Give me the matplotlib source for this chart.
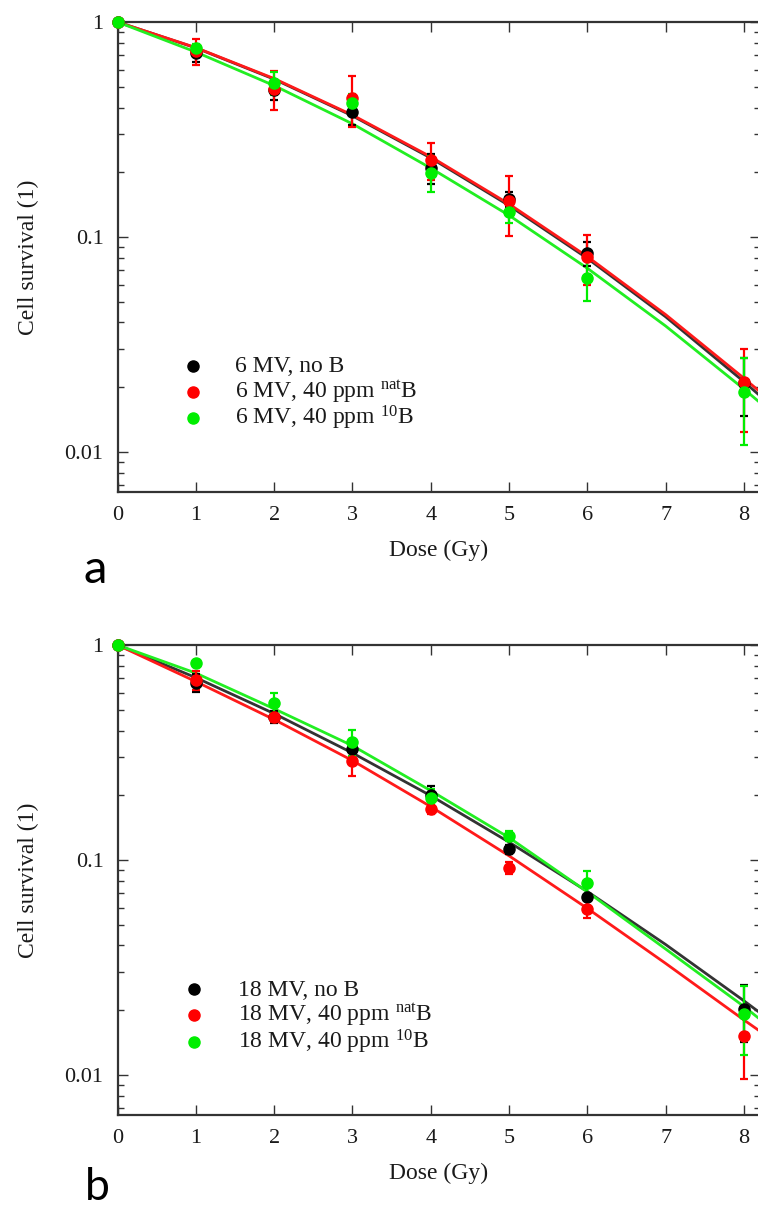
import matplotlib
matplotlib.use("Agg")
import matplotlib.pyplot as plt
from matplotlib.ticker import LogLocator, NullFormatter, FixedLocator

# ---------------- data ----------------
dose = [0, 1, 2, 3, 4, 5, 6, 8]
fit_dose = [0, 1, 2, 3, 4, 5, 6, 7, 8, 8.2]
x_ticks = [0, 1, 2, 3, 4, 5, 6, 7, 8]
y_ticks = [0.01, 0.1, 1]
y_ticklabels = ["0.01", "0.1", "1"]

# Panel a : 6 MV
a_noB = [1, 0.717, 0.483, 0.381, 0.209, 0.150, 0.084, 0.0210]
a_noB_err = [0, 0.065, 0.05, 0.05, 0.033, 0.012, 0.011, 0.0064]
a_nat = [1, 0.730, 0.490, 0.443, 0.228, 0.147, 0.081, 0.0212]
a_nat_err = [0, 0.10, 0.10, 0.12, 0.045, 0.046, 0.021, 0.0088]
a_b10 = [1, 0.757, 0.520, 0.420, 0.199, 0.131, 0.0645, 0.0190]
a_b10_err = [0, 0.03, 0.065, 0.04, 0.038, 0.015, 0.014, 0.0083]
a_fit_noB = [1, 0.758, 0.542, 0.366, 0.233, 0.140, 0.0795, 0.0425, 0.0212, 0.0183]
a_fit_nat = [1, 0.760, 0.5455, 0.369, 0.236, 0.1423, 0.0810, 0.0435, 0.0220, 0.0191]
a_fit_b10 = [1, 0.725, 0.506, 0.336, 0.209, 0.126, 0.0715, 0.0385, 0.0196, 0.0170]
a_labels = ["6 MV, no B", "6 MV, 40 ppm $^{\\mathrm{nat}}$B", "6 MV, 40 ppm $^{\\mathrm{10}}$B"]

# Panel b : 18 MV
b_noB = [1, 0.668, 0.462, 0.329, 0.201, 0.112, 0.0671, 0.0202]
b_noB_err = [0, 0.065, 0.03, 0.03, 0.02, 0.005, 0.008, 0.006]
b_nat = [1, 0.688, 0.460, 0.290, 0.172, 0.092, 0.0594, 0.0151]
b_nat_err = [0, 0.07, 0.02, 0.043, 0.008, 0.006, 0.006, 0.0055]
b_b10 = [1, 0.822, 0.540, 0.353, 0.194, 0.129, 0.0784, 0.0192]
b_b10_err = [0, 0.02, 0.058, 0.05, 0.02, 0.007, 0.010, 0.0068]
b_fit_noB = [1, 0.705, 0.4796, 0.3145, 0.199, 0.121, 0.0713, 0.0404, 0.0221, 0.0195]
b_fit_nat = [1, 0.676, 0.450, 0.290, 0.177, 0.1045, 0.0595, 0.0330, 0.0180, 0.0160]
b_fit_b10 = [1, 0.740, 0.505, 0.340, 0.210, 0.127, 0.0710, 0.0385, 0.0208, 0.0182]
b_labels = ["18 MV, no B", "18 MV, 40 ppm $^{\\mathrm{nat}}$B", "18 MV, 40 ppm $^{\\mathrm{10}}$B"]

colors = ["#000000", "#ff0000", "#00ee00"]
fit_colors = ["#333333", "#ff1a1a", "#22ee22"]

# ---------------- style ----------------
plt.rcParams["font.family"] = ["Liberation Serif", "DejaVu Serif"]
plt.rcParams["mathtext.fontset"] = "custom"
plt.rcParams["mathtext.rm"] = "Liberation Serif"
plt.rcParams["mathtext.it"] = "Liberation Serif:italic"

W, H = 758, 1206
fig = plt.figure(figsize=(W / 100, H / 100), dpi=100)

x0_px = 117.5
px_per_gy = 78.3
xmax = 8.2
ax_wpx = px_per_gy * xmax
ylo, yhi = 0.0065, 1.0
spine_col = "#333333"
txt_col = "#1a1a1a"


def make_panel(top_px, bottom_px, pts, errs, fits, labels, rows_px, marker_px, text_px):
    hpx = bottom_px - top_px
    ax = fig.add_axes([x0_px / W, 1 - bottom_px / H, ax_wpx / W, hpx / H])
    ax.set_yscale("log")
    ax.set_xlim(0, xmax)
    ax.set_ylim(ylo, yhi)
    for fy, c in zip(fits, fit_colors):
        ax.plot(fit_dose, fy, color=c, lw=2.0, zorder=2)
    for y, e, c in zip(pts, errs, colors):
        ax.errorbar(dose, y, yerr=e, fmt="o", color=c, ms=8, mec=c,
                    elinewidth=1.6, capsize=3.2, capthick=1.6, zorder=3, clip_on=False)
    ax.xaxis.set_major_locator(FixedLocator(x_ticks))
    ax.set_xticklabels([str(t) for t in x_ticks])
    ax.yaxis.set_major_locator(FixedLocator(y_ticks))
    ax.set_yticklabels(y_ticklabels)
    ax.yaxis.set_minor_locator(LogLocator(base=10, subs=[2, 3, 4, 5, 6, 7, 8, 9]))
    ax.yaxis.set_minor_formatter(NullFormatter())
    ax.tick_params(which="both", direction="in", top=True, right=True,
                   color=spine_col, width=1.0, labelsize=16, labelcolor=txt_col)
    ax.tick_params(which="major", length=7)
    ax.tick_params(which="minor", length=4)
    ax.tick_params(axis="x", pad=10)
    ax.tick_params(axis="y", pad=10)
    for s in ax.spines.values():
        s.set_color(spine_col)
        s.set_linewidth(1.6)
    ax.set_xlabel("Dose (Gy)", fontsize=17, color=txt_col, va="center")
    ax.xaxis.set_label_coords(0.5, -58 / hpx)
    ax.set_ylabel("Cell survival (1)", fontsize=17, color=txt_col, va="center")
    ax.yaxis.set_label_coords((28 - x0_px) / ax_wpx, 0.5)
    # legend (markers + labels)
    for r, lab, c in zip(rows_px, labels, colors):
        ya = (bottom_px - r) / hpx
        ax.plot([(marker_px - x0_px) / ax_wpx], [ya], "o", ms=8, color=c, mec=c,
                transform=ax.transAxes, clip_on=False)
        ax.text((text_px - x0_px) / ax_wpx, (bottom_px - r - 6.5) / hpx, lab,
                transform=ax.transAxes, fontsize=17, color=txt_col,
                ha="left", va="baseline")
    return ax


make_panel(22, 492, [a_noB, a_nat, a_b10], [a_noB_err, a_nat_err, a_b10_err],
           [a_fit_noB, a_fit_nat, a_fit_b10], a_labels, [366, 392, 418], 193, 235)
make_panel(645, 1115, [b_noB, b_nat, b_b10], [b_noB_err, b_nat_err, b_b10_err],
           [b_fit_noB, b_fit_nat, b_fit_b10], b_labels, [989, 1015, 1042], 194, 238)

fig.text(95 / W, 1 - 583 / H, "a", fontsize=34, family="Lato", ha="center", va="baseline")
fig.text(97 / W, 1 - 1200 / H, "b", fontsize=32, family="Lato", ha="center", va="baseline")

fig.savefig("out.png", dpi=100)
